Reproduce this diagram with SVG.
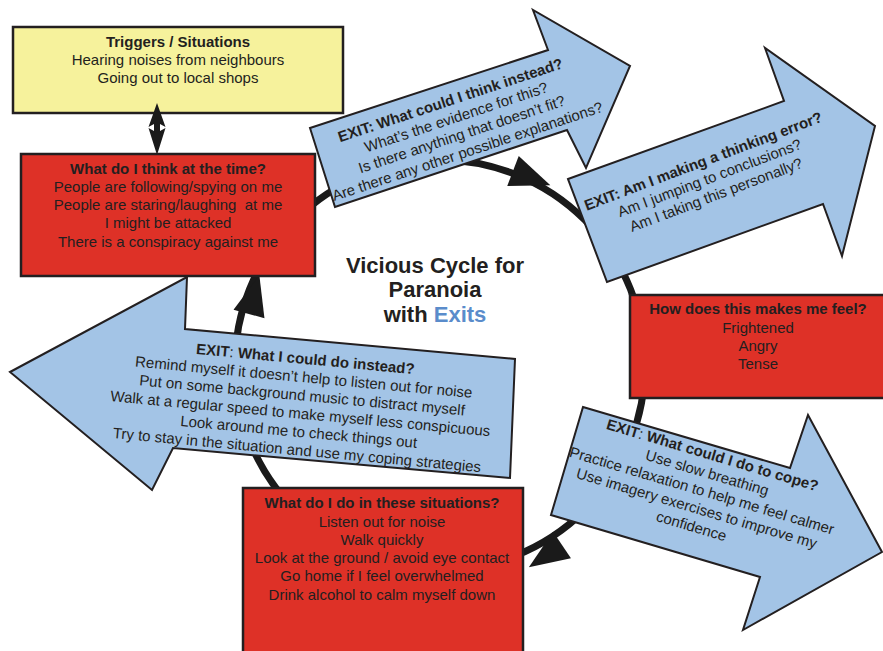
<svg xmlns="http://www.w3.org/2000/svg" width="883" height="651" viewBox="0 0 883 651">
<style>
text{font-family:"Liberation Sans",Arial,sans-serif;font-size:15px;fill:#231f20;text-anchor:middle}
.b{font-weight:bold}
.box{stroke:#231f20;stroke-width:2.5}
.yel{fill:#f6f29c}
.red{fill:#de3127}
.blue{fill:#a3c4e6;stroke:#231f20;stroke-width:2;stroke-linejoin:miter}
.ttl{font-size:22px;font-weight:bold}
</style>
<defs>
<path id="ah" d="M0,-16 L40,0 L0,16 z" fill="#1a1a1a"/>
</defs>
<rect width="883" height="651" fill="#fff"/>
<g id="connectors">
<circle cx="440" cy="365" r="205" fill="none" stroke="#1a1a1a" stroke-width="7"/>
<use href="#ah" transform="translate(513,171) rotate(21)"/>
<use href="#ah" transform="translate(249,314) rotate(-75)"/>
<use href="#ah" transform="translate(562,545) rotate(146)"/>
</g>
<g id="triggers">
<rect class="box yel" x="13" y="27" width="330" height="86"/>
<text class="b" x="178" y="47">Triggers / Situations</text>
<text x="178" y="65">Hearing noises from neighbours</text>
<text x="178" y="83">Going out to local shops</text>
</g>
<g id="double-arrow">
<polygon points="157,103 165.5,127 160,124 160,131 165.5,128 157,155 148.5,128 154,131 154,124 148.5,127" fill="#1a1a1a"/>
</g>
<g id="think">
<rect class="box red" x="21" y="154" width="294" height="122"/>
<text class="b" x="168" y="174">What do I think at the time?</text>
<text x="168" y="192">People are following/spying on me</text>
<text x="168" y="210" xml:space="preserve">People are staring/laughing  at me</text>
<text x="168" y="228">I might be attacked</text>
<text x="168" y="247">There is a conspiracy against me</text>
</g>
<g id="exit-think">
<polygon class="blue" points="310,128 548,50 533,10 630,66 586,168 567,130 335,207"/>
<g transform="translate(452,105) rotate(-18.4)">
<text class="b" x="0" y="0">EXIT: What could I think instead?</text>
<text x="0" y="18">What’s the evidence for this?</text>
<text x="0" y="36">Is there anything that doesn’t fit?</text>
<text x="0" y="54">Are there any other possible explanations?</text>
</g>
</g>
<g id="exit-error">
<polygon class="blue" points="568,179 784,101 765,48 875,126 842,256 823,204 607,282"/>
<g transform="translate(705,166) rotate(-20.7)">
<text class="b" x="0" y="0">EXIT: Am I making a thinking error?</text>
<text x="0" y="18">Am I jumping to conclusions?</text>
<text x="0" y="36">Am I taking this personally?</text>
</g>
</g>
<g id="feel">
<rect class="box red" x="630" y="295" width="256" height="103"/>
<text class="b" x="758" y="314">How does this makes me feel?</text>
<text x="758" y="333">Frightened</text>
<text x="758" y="351">Angry</text>
<text x="758" y="369">Tense</text>
</g>
<g id="exit-cope">
<polygon class="blue" points="583,407 790,468 808,415 882,552 743,630 760,577 551,515"/>
<g transform="translate(711,460) rotate(16.5)">
<text x="0" y="0"><tspan class="b">EXIT</tspan>: <tspan class="b">What could I do to cope?</tspan></text>
<text x="0" y="18.5">Use slow breathing</text>
<text x="0" y="37">Practice relaxation to help me feel calmer</text>
<text x="0" y="55.5">Use imagery exercises to improve my</text>
<text x="0" y="74">confidence</text>
</g>
</g>
<g id="do">
<rect class="box red" x="243" y="488" width="280" height="170"/>
<text class="b" x="382" y="508">What do I do in these situations?</text>
<text x="382" y="527">Listen out for noise</text>
<text x="382" y="545">Walk quickly</text>
<text x="382" y="563">Look at the ground / avoid eye contact</text>
<text x="382" y="581">Go home if I feel overwhelmed</text>
<text x="382" y="600">Drink alcohol to calm myself down</text>
</g>
<g id="exit-do">
<polygon class="blue" points="10,372 187,277 185,329 515,359 510,478 173,448 152,490"/>
<g transform="translate(305,364) rotate(5.3)">
<text x="0" y="0"><tspan class="b">EXIT</tspan>: <tspan class="b">What I could do instead?</tspan></text>
<text x="0" y="18.3">Remind myself it doesn’t help to listen out for noise</text>
<text x="0" y="36.6">Put on some background music to distract myself</text>
<text x="0" y="54.9">Walk at a regular speed to make myself less conspicuous</text>
<text x="0" y="73.2">Look around me to check things out</text>
<text x="0" y="91.5">Try to stay in the situation and use my coping strategies</text>
</g>
</g>
<g id="title">
<text class="ttl" x="435" y="273">Vicious Cycle for</text>
<text class="ttl" x="435" y="297">Paranoia</text>
<text class="ttl" x="435" y="322">with <tspan fill="#5a8ccb">Exits</tspan></text>
</g>
</svg>
